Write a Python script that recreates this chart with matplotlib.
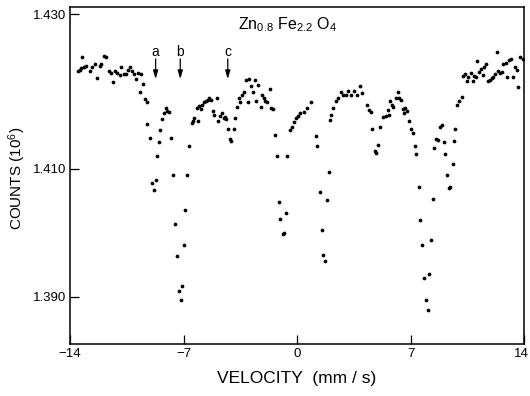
import numpy as np
import matplotlib
matplotlib.use('Agg')
import matplotlib.pyplot as plt
from matplotlib.transforms import ScaledTranslation

# Mossbauer spectrum, Zn0.8 Fe2.2 O4
velocity = [
    -13.51, -13.40, -13.30, -13.26, -13.14, -13.00, -12.79, -12.64, -12.48, -12.32,
    -12.17, -12.07, -11.91, -11.76, -11.61, -11.49, -11.35, -11.21, -11.08, -10.94,
    -10.84, -10.69, -10.55, -10.42, -10.32, -10.18, -10.05, -9.95, -9.81, -9.70,
    -9.64, -9.50, -9.39, -9.27, -9.23, -9.07, -8.96, -8.80, -8.72, -8.64,
    -8.51, -8.45, -8.31, -8.18, -8.10, -8.00, -7.90, -7.77, -7.63, -7.52,
    -7.40, -7.28, -7.17, -7.11, -6.97, -6.89, -6.78, -6.66, -6.49, -6.40,
    -6.33, -6.19, -6.12, -6.05, -5.92, -5.84, -5.72, -5.61, -5.51, -5.41,
    -5.30, -5.20, -5.10, -4.95, -4.85, -4.73, -4.61, -4.52, -4.46, -4.38,
    -4.26, -4.11, -4.05, -3.90, -3.81, -3.70, -3.60, -3.50, -3.39, -3.27,
    -3.15, -3.02, -2.94, -2.82, -2.71, -2.61, -2.51, -2.41, -2.24, -2.16,
    -2.05, -1.96, -1.85, -1.68, -1.59, -1.50, -1.38, -1.23, -1.13, -1.03,
    -0.86, -0.80, -0.68, -0.60, -0.45, -0.31, -0.20, -0.06, 0.06, 0.20,
    0.43, 0.64, 0.85, 1.15, 1.25, 1.40, 1.52, 1.60, 1.73, 1.83,
    1.97, 2.02, 2.08, 2.22, 2.39, 2.55, 2.70, 2.84, 3.00, 3.16,
    3.31, 3.52, 3.72, 3.87, 4.03, 4.34, 4.44, 4.55, 4.64, 4.81,
    4.89, 4.98, 5.12, 5.32, 5.49, 5.59, 5.66, 5.75, 5.86, 5.94,
    6.11, 6.21, 6.31, 6.41, 6.56, 6.62, 6.68, 6.80, 6.93, 7.05,
    7.14, 7.30, 7.36, 7.51, 7.61, 7.71, 7.85, 7.96, 8.06, 8.16,
    8.26, 8.37, 8.47, 8.57, 8.70, 8.82, 8.94, 9.09, 9.11, 9.25,
    9.36, 9.46, 9.62, 9.68, 9.75, 9.89, 10.01, 10.16, 10.22, 10.36,
    10.47, 10.57, 10.71, 10.84, 10.92, 11.04, 11.12, 11.24, 11.35, 11.45,
    11.53, 11.66, 11.80, 11.90, 12.01, 12.11, 12.21, 12.32, 12.42, 12.52,
    12.63, 12.72, 12.89, 12.97, 13.10, 13.20, 13.30, 13.45, 13.55, 13.65,
    13.75, 13.92,
]
counts = [
    1.4226, 1.4228, 1.4230, 1.4245, 1.4232, 1.4233, 1.4226, 1.4232, 1.4235, 1.4217,
    1.4233, 1.4236, 1.4246, 1.4244, 1.4226, 1.4224, 1.4212, 1.4226, 1.4224, 1.4221,
    1.4231, 1.4222, 1.4222, 1.4228, 1.4232, 1.4226, 1.4223, 1.4216, 1.4224, 1.4199,
    1.4222, 1.4209, 1.4190, 1.4186, 1.4158, 1.4140, 1.4078, 1.4066, 1.4082, 1.4116,
    1.4135, 1.4150, 1.4164, 1.4172, 1.4178, 1.4175, 1.4173, 1.4140, 1.4091, 1.4013,
    1.3963, 1.3908, 1.3895, 1.3917, 1.3980, 1.4035, 1.4091, 1.4129, 1.4159, 1.4162,
    1.4165, 1.4179, 1.4162, 1.4181, 1.4177, 1.4182, 1.4186, 1.4187, 1.4189, 1.4191,
    1.4189, 1.4175, 1.4170, 1.4191, 1.4162, 1.4168, 1.4172, 1.4166, 1.4167, 1.4164,
    1.4151, 1.4138, 1.4136, 1.4152, 1.4166, 1.4180, 1.4191, 1.4186, 1.4195, 1.4199,
    1.4215, 1.4186, 1.4216, 1.4207, 1.4199, 1.4215, 1.4188, 1.4208, 1.4180, 1.4196,
    1.4191, 1.4188, 1.4186, 1.4203, 1.4179, 1.4177, 1.4144, 1.4116, 1.4048, 1.4022,
    1.3998, 1.3999, 1.4031, 1.4116, 1.4150, 1.4154, 1.4160, 1.4166, 1.4168, 1.4172,
    1.4173, 1.4179, 1.4186, 1.4143, 1.4129, 1.4063, 1.4004, 1.3965, 1.3956, 1.4051,
    1.4095, 1.4163, 1.4169, 1.4179, 1.4188, 1.4191, 1.4199, 1.4196, 1.4195, 1.4201,
    1.4196, 1.4201, 1.4196, 1.4207, 1.4198, 1.4182, 1.4176, 1.4173, 1.4151, 1.4123,
    1.4121, 1.4131, 1.4154, 1.4167, 1.4168, 1.4176, 1.4169, 1.4188, 1.4183, 1.4180,
    1.4192, 1.4199, 1.4191, 1.4189, 1.4177, 1.4172, 1.4178, 1.4175, 1.4162, 1.4152,
    1.4146, 1.4129, 1.4119, 1.4071, 1.4020, 1.3980, 1.3929, 1.3894, 1.3879, 1.3936,
    1.3989, 1.4052, 1.4127, 1.4139, 1.4137, 1.4154, 1.4156, 1.4134, 1.4119, 1.4091,
    1.4070, 1.4071, 1.4106, 1.4136, 1.4151, 1.4183, 1.4188, 1.4193, 1.4220, 1.4222,
    1.4214, 1.4219, 1.4224, 1.4214, 1.4220, 1.4218, 1.4239, 1.4225, 1.4229, 1.4221,
    1.4231, 1.4235, 1.4214, 1.4215, 1.4217, 1.4219, 1.4223, 1.4251, 1.4226, 1.4224,
    1.4225, 1.4235, 1.4237, 1.4219, 1.4241, 1.4242, 1.4218, 1.4232, 1.4228, 1.4206,
    1.4245, 1.4242,
]

# marked lines
arrow_labels = ['a', 'b', 'c']
arrow_vel = [-8.72, -7.20, -4.27]

x_ticks = [-14, -7, 0, 7, 14]
y_ticks = [1.390, 1.410, 1.430]
y_ticklabels = ['1.390', '1.410', '1.430']

# the printed count axis is not evenly spaced: separate slope above/below 1.410
def fwd(v):
    v = np.asarray(v, dtype=float)
    return np.where(v < 1.410, (v - 1.390) * 6370.0, 127.4 + (v - 1.410) * 7715.0)

def inv(t):
    t = np.asarray(t, dtype=float)
    return np.where(t < 127.4, 1.390 + t / 6370.0, 1.410 + (t - 127.4) / 7715.0)

plt.rcParams['font.family'] = ['Liberation Sans', 'DejaVu Sans']
plt.rcParams['mathtext.fontset'] = 'custom'
plt.rcParams['mathtext.rm'] = 'Liberation Sans'
plt.rcParams['mathtext.it'] = 'Liberation Sans'

fig = plt.figure(figsize=(5.3, 3.96), dpi=100)
ax = fig.add_axes([70/530, 1 - 344/396, 454/530, 337/396])
ax.set_yscale('function', functions=(fwd, inv))

ax.plot(velocity, counts, 'o', color='black', ms=2.7, mew=0)

ax.set_xlim(-14, 14)
ax.set_ylim(1.38257, 1.43091)
ax.set_xticks(x_ticks)
ax.set_xticklabels([str(t).replace('-', '\u2212') for t in x_ticks])
ax.set_yticks(y_ticks)
ax.set_yticklabels(y_ticklabels)
ax.minorticks_off()
ax.tick_params(direction='in', length=6.5, width=0.9, labelsize=9.5, pad=3)
for s in ax.spines.values():
    s.set_linewidth(1.1)

# keep the last velocity label inside the figure edge
last = ax.get_xticklabels()[-1]
last.set_transform(last.get_transform() + ScaledTranslation(-3/100, 0, fig.dpi_scale_trans))

for lab, v in zip(arrow_labels, arrow_vel):
    ax.annotate('', xy=(v, 1.4216), xytext=(v, 1.4242),
                arrowprops=dict(arrowstyle='-|>,head_length=0.5,head_width=0.15',
                                color='black', lw=0.9, shrinkA=0, shrinkB=0))
    ax.text(v, 1.4251, lab, ha='center', va='center', fontsize=10)

ax.text(0.37, 0.935, r'Zn$_{0.8}$ Fe$_{2.2}$ O$_{4}$', transform=ax.transAxes,
        ha='left', va='baseline', fontsize=11.5)

ax.set_xlabel('VELOCITY  (mm / s)', fontsize=12.5, labelpad=8)
fig.text(17/530, 1 - 178/396, 'COUNTS (10$^6$)', rotation=90,
         ha='center', va='center', fontsize=11)

fig.savefig('out.png', dpi=100)
